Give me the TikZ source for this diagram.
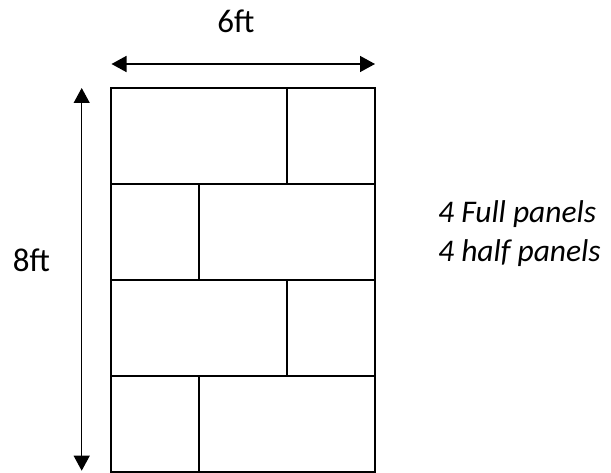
\documentclass[tikz,border=0pt]{standalone}
\usepackage{tikz}
\usepackage{fontspec}
\setmainfont{Carlito}
\usetikzlibrary{arrows.meta, positioning}

\tikzset{
    panel/.style={line width=1.7pt, black},
    dimline/.style={line width=1.5pt, {Triangle[length=15pt, width=16pt]}-{Triangle[length=15pt, width=16pt]}},
    dimlabel/.style={font=\fontsize{33}{38}\selectfont, anchor=base, inner sep=0pt},
    notelabel/.style={font=\fontsize{31.5}{36}\selectfont\itshape, anchor=base west, inner sep=0pt}
}

\begin{document}
\begin{tikzpicture}[x=1pt, y=-1pt]
    \useasboundingbox (0,0) rectangle (611,473);

    % Sheet outline
    \draw[panel] (110.7,87.7) rectangle (375,471.7);

    % Rows of panels
    \draw[panel] (110.7,183.7) -- (375,183.7);
    \draw[panel] (110.7,279.7) -- (375,279.7);
    \draw[panel] (110.7,375.7) -- (375,375.7);

    % Panel joints
    \draw[panel] (287,87.7) -- (287,183.7);
    \draw[panel] (199.3,183.7) -- (199.3,279.7);
    \draw[panel] (287,279.7) -- (287,375.7);
    \draw[panel] (199.3,375.7) -- (199.3,471.7);

    % Width dimension
    \coordinate (wleft) at (111.5,64);
    \coordinate (wright) at (375,64);
    \draw[dimline] (wleft) -- (wright);
    \node[dimlabel] (width) at (236,32.3) {6ft};

    % Height dimension
    \coordinate (htop) at (81.7,88);
    \coordinate (hbottom) at (81.7,470.7);
    \draw[dimline, line width=1.1pt] (htop) -- (hbottom);
    \node[dimlabel] (height) at (31.3,271.7) {8ft};

    % Panel count
    \node[notelabel] (full) at (438,222.7) {4 Full panels};
    \node[notelabel] (half) at (438,261.7) {4 half panels};
\end{tikzpicture}
\end{document}
